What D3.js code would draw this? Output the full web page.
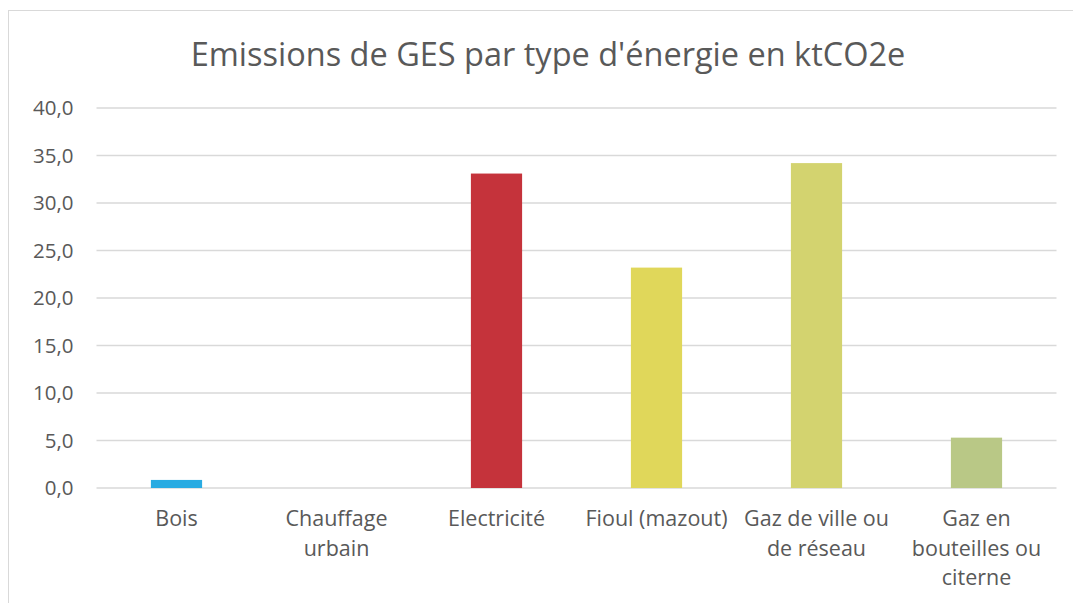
<!DOCTYPE html>
<html>
<head>
<meta charset="utf-8">
<script src="https://cdn.jsdelivr.net/npm/d3@7"></script>
<style>
  body { margin: 0; background: #fff; }
  svg { display: block; font-family: "Open Sans", sans-serif; }
</style>
</head>
<body>
<svg id="chart" width="1073" height="603"></svg>
<script>
// Chart values
const categories = ["Bois", "Chauffage urbain", "Electricité", "Fioul (mazout)", "Gaz de ville ou de réseau", "Gaz en bouteilles ou citerne"];
const emissions = [0.85, 0, 33.1, 23.2, 34.2, 5.3];
const barColors = ["#29abe2", "#9aa0a6", "#c5333b", "#e0d75a", "#d3d36f", "#b9c886"];
const yTicks = [0, 5, 10, 15, 20, 25, 30, 35, 40];
const title = "Emissions de GES par type d'énergie en ktCO2e";

const svg = d3.select("#chart");
const margin = { top: 108, right: 17, bottom: 115, left: 96.5 },
    width = 1073 - margin.left - margin.right,
    height = 603 - margin.top - margin.bottom;

// chart frame (runs off the right and bottom edge like the original)
svg.append("rect")
    .attr("x", 8.5).attr("y", 10.5)
    .attr("width", 1100).attr("height", 700)
    .attr("fill", "#fff")
    .attr("stroke", "#d9d9d9")
    .attr("stroke-width", 1);

svg.append("text")
    .attr("x", 548)
    .attr("y", 66)
    .attr("text-anchor", "middle")
    .style("font-size", "32.5px")
    .style("fill", "#595959")
    .text(title);

const g = svg.append("g").attr("transform", `translate(${margin.left},${margin.top})`);

const x = d3.scaleBand().domain(categories).range([0, 960]).paddingInner(0.68).paddingOuter(0.34);
const y = d3.scaleLinear().domain([0, 40]).range([height, 0]);

// gridlines
g.selectAll(".grid")
    .data(yTicks)
    .join("line")
    .attr("class", "grid")
    .attr("x1", 0).attr("x2", 960)
    .attr("y1", d => y(d)).attr("y2", d => y(d))
    .attr("stroke", "#d9d9d9")
    .attr("stroke-width", 1.5);

// Y axis labels
const yAxis = g.append("g")
    .call(d3.axisLeft(y).tickValues(yTicks).tickSize(0).tickPadding(23)
        .tickFormat(d => d3.format(".1f")(d).replace(".", ",")));
yAxis.select(".domain").remove();
yAxis.selectAll("text")
    .style("font-size", "20.5px")
    .style("font-family", "'Open Sans', sans-serif")
    .attr("fill", "#595959");

// bars
g.selectAll(".bar")
    .data(categories)
    .join("rect")
    .attr("class", "bar")
    .attr("x", d => x(d))
    .attr("width", x.bandwidth())
    .attr("y", (d, i) => y(emissions[i]))
    .attr("height", (d, i) => height - y(emissions[i]))
    .attr("fill", (d, i) => barColors[i]);

// X axis labels, wrapped inside the band
const xAxis = g.append("g")
    .attr("transform", `translate(0,${height})`)
    .call(d3.axisBottom(x).tickSize(0).tickPadding(23));
xAxis.select(".domain").remove();
xAxis.selectAll("text")
    .style("font-size", "21.5px")
    .style("font-family", "'Open Sans', sans-serif")
    .attr("fill", "#595959")
    .call(wrap, 152);

function wrap(text, w) {
    text.each(function() {
        const t = d3.select(this);
        const words = t.text().split(/\s+/);
        const yy = t.attr("y"), dy = parseFloat(t.attr("dy"));
        let line = [], lineNo = 0;
        let tspan = t.text(null).append("tspan").attr("x", 0).attr("y", yy).attr("dy", dy + "em");
        words.forEach(word => {
            line.push(word);
            tspan.text(line.join(" "));
            if (tspan.node().getComputedTextLength() > w && line.length > 1) {
                line.pop();
                tspan.text(line.join(" "));
                line = [word];
                tspan = t.append("tspan").attr("x", 0).attr("y", yy)
                    .attr("dy", (++lineNo * 1.36 + dy) + "em").text(word);
            }
        });
    });
}
</script>
</body>
</html>
